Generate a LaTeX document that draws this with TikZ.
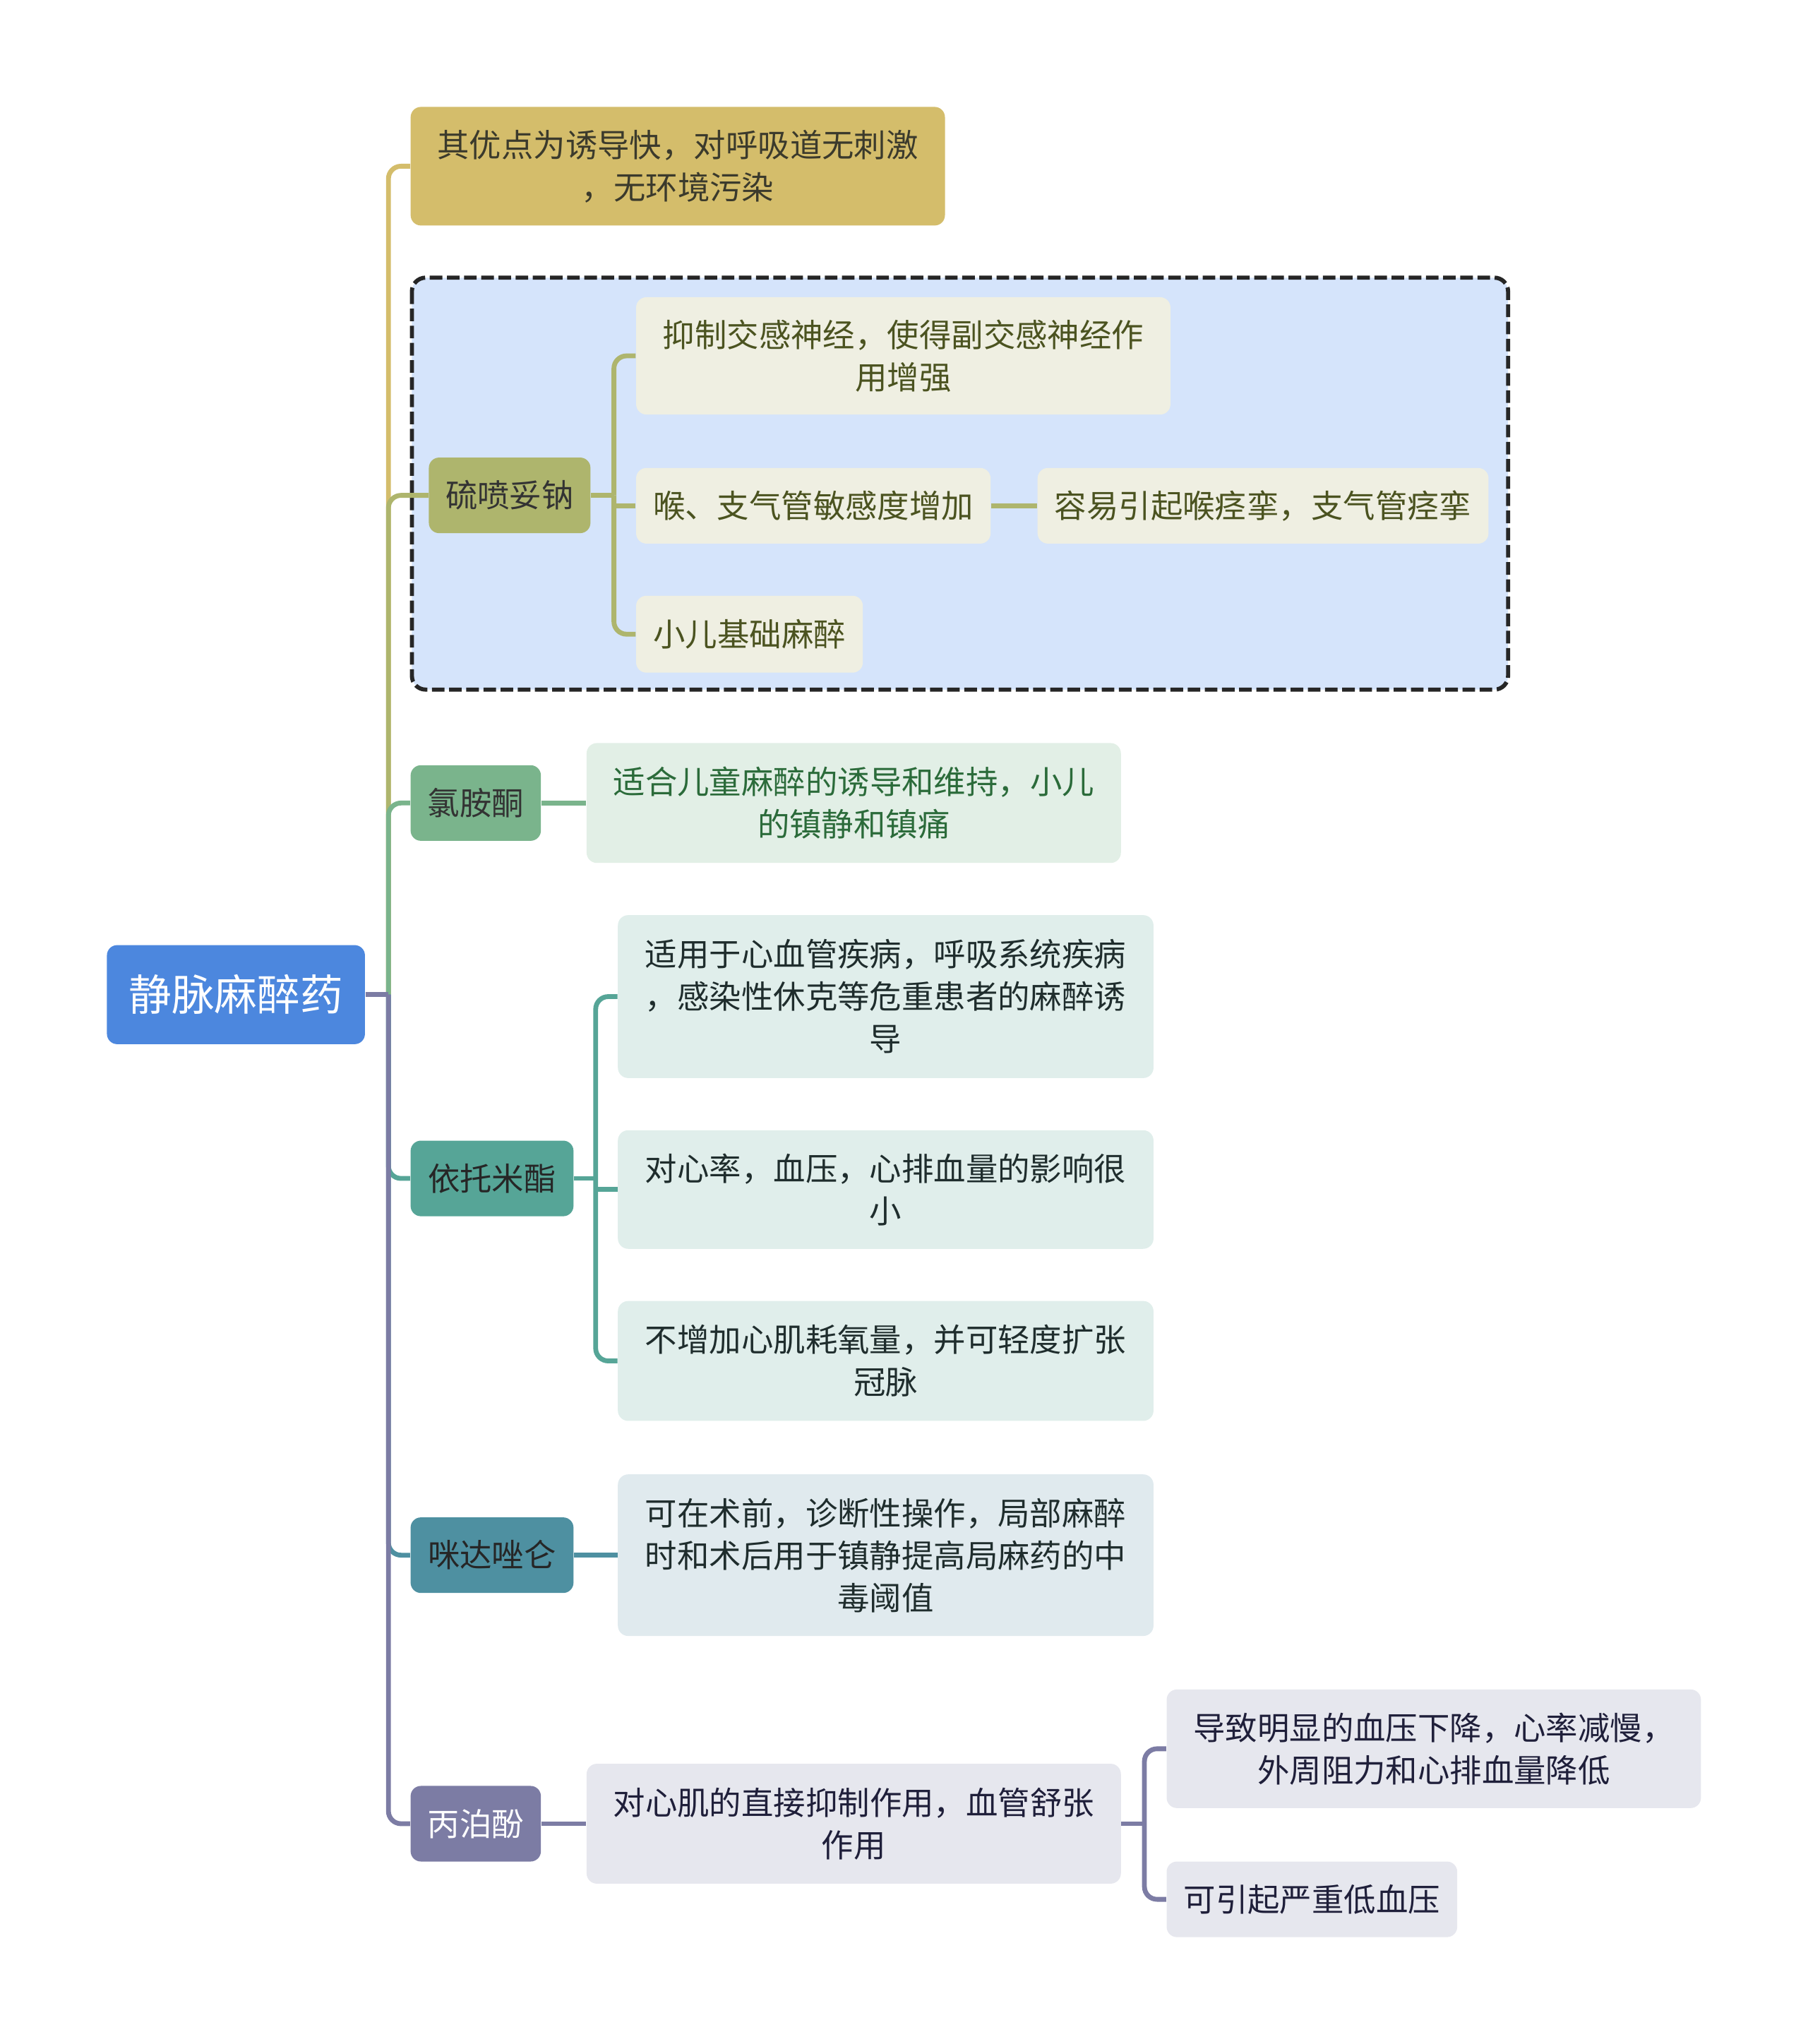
\documentclass[tikz,border=0pt]{standalone}
\usepackage{fontspec}
\setmainfont{Noto Sans CJK SC}
\definecolor{rootblue}{HTML}{4C87DE}
\definecolor{cgold}{HTML}{D4BD6B}
\definecolor{colive}{HTML}{AEB56D}
\definecolor{cgreen}{HTML}{7AB48C}
\definecolor{cteal}{HTML}{56A597}
\definecolor{cblue}{HTML}{4E90A1}
\definecolor{cpurple}{HTML}{7C7CA4}
\definecolor{groupbg}{HTML}{D5E4FB}
\definecolor{olivebg}{HTML}{EFEFE2}
\definecolor{greenbg}{HTML}{E2EFE6}
\definecolor{tealbg}{HTML}{E0EEEB}
\definecolor{bluebg}{HTML}{E0EAEE}
\definecolor{purplebg}{HTML}{E6E7EE}
\definecolor{txtgold}{HTML}{3B3A2C}
\definecolor{txtolive}{HTML}{4B5320}
\definecolor{txtgreen}{HTML}{2B6B3A}
\definecolor{txtdark}{HTML}{1F2D2D}
\definecolor{txtnavy}{HTML}{1F1F3A}
\tikzset{
  topic/.style={rounded corners=4.5pt, align=center, inner sep=0pt,
    font=\fontsize{14pt}{18.5pt}\selectfont},
  link/.style={line width=2.1pt, rounded corners=5.5pt},
}
\begin{document}
\begin{tikzpicture}[x=0.02cm, y=-0.02cm]
  \useasboundingbox (0,0) rectangle (1387,1568);
  % dashed group round the first drug
  \draw[dashed, dash pattern=on 5.5pt off 2pt, line width=1.8pt, draw=black!85,
    fill=groupbg, rounded corners=6pt] (316,213) rectangle (1157,529);

  % root and drugs
  \node[topic, fill=rootblue, text=white, minimum width=3.96cm, minimum height=1.52cm,
    font=\fontsize{18.7pt}{22pt}\selectfont] (root) at (181,763) {静脉麻醉药};
  \node[topic, fill=cgold, text=txtgold, minimum width=8.2cm, minimum height=1.82cm]
    (n1) at (520,127.5) {其优点为诱导快，对呼吸道无刺激\\，无环境污染};
  \node[topic, fill=colive, text=black!80, minimum width=2.48cm, minimum height=1.16cm]
    (n2) at (391,380) {硫喷妥钠};
  \node[topic, fill=cgreen, text=black!80, minimum width=2.0cm, minimum height=1.16cm]
    (n3) at (365,616) {氯胺酮};
  \node[topic, fill=cteal, text=black!85, minimum width=2.5cm, minimum height=1.16cm]
    (n4) at (377.5,904) {依托米酯};
  \node[topic, fill=cblue, text=black!85, minimum width=2.5cm, minimum height=1.16cm]
    (n5) at (377.5,1193) {咪达唑仑};
  \node[topic, fill=cpurple, text=white, minimum width=2.0cm, minimum height=1.16cm]
    (n6) at (365,1399) {丙泊酚};

  % details
  \node[topic, fill=olivebg, text=txtolive, minimum width=8.2cm, minimum height=1.8cm]
    (n2a) at (693,273) {抑制交感神经，使得副交感神经作\\用增强};
  \node[topic, fill=olivebg, text=txtolive, minimum width=5.44cm, minimum height=1.16cm]
    (n2b) at (624,388) {喉、支气管敏感度增加};
  \node[topic, fill=olivebg, text=txtolive, minimum width=6.92cm, minimum height=1.16cm]
    (n2b1) at (969,388) {容易引起喉痉挛，支气管痉挛};
  \node[topic, fill=olivebg, text=txtolive, minimum width=3.48cm, minimum height=1.18cm]
    (n2c) at (575,486.5) {小儿基础麻醉};
  \node[topic, fill=greenbg, text=txtgreen, minimum width=8.2cm, minimum height=1.84cm]
    (n3a) at (655,616) {适合儿童麻醉的诱导和维持，小儿\\的镇静和镇痛};
  \node[topic, fill=tealbg, text=txtdark, minimum width=8.22cm, minimum height=2.5cm]
    (n4a) at (679.5,764.5) {适用于心血管疾病，呼吸系统疾病\\，感染性休克等危重患者的麻醉诱\\导};
  \node[topic, fill=tealbg, text=txtdark, minimum width=8.22cm, minimum height=1.82cm]
    (n4b) at (679.5,912.5) {对心率，血压，心排血量的影响很\\小};
  \node[topic, fill=tealbg, text=txtdark, minimum width=8.22cm, minimum height=1.84cm]
    (n4c) at (679.5,1044) {不增加心肌耗氧量，并可轻度扩张\\冠脉};
  \node[topic, fill=bluebg, text=txtdark, minimum width=8.22cm, minimum height=2.48cm]
    (n5a) at (679.5,1193) {可在术前，诊断性操作，局部麻醉\\时和术后用于镇静提高局麻药的中\\毒阈值};
  \node[topic, fill=purplebg, text=txtnavy, minimum width=8.2cm, minimum height=1.84cm]
    (n6a) at (655,1399) {对心肌的直接抑制作用，血管舒张\\作用};
  \node[topic, fill=purplebg, text=txtnavy, minimum width=8.2cm, minimum height=1.82cm]
    (n6a1) at (1100,1341.5) {导致明显的血压下降，心率减慢，\\外周阻力和心排血量降低};
  \node[topic, fill=purplebg, text=txtnavy, minimum width=4.46cm, minimum height=1.16cm]
    (n6a2) at (1006.5,1457) {可引起严重低血压};

  % trunk
  \coordinate (hub) at (298,763);
  \foreach \n / \col in {n1/cgold, n2/colive, n3/cgreen, n4/cteal, n5/cblue, n6/cpurple} {
    \draw[link, \col] (hub) |- (\n.west);
  }
  \draw[link, cpurple] (root.east) -- (hub);

  % second level
  \coordinate (h2) at (471,380);
  \draw[link, colive] (n2.east) -- (h2);
  \foreach \n in {n2a, n2c} {
    \draw[link, colive] (h2) |- (\n.west);
  }
  \draw[link, colive] (h2 |- n2b.west) -- (n2b.west);
  \draw[link, colive] (n2b.east) -- (n2b1.west);
  \draw[link, cgreen] (n3.east) -- (n3a.west);
  \coordinate (h4) at (457,904);
  \draw[link, cteal] (n4.east) -- (h4);
  \foreach \n in {n4a, n4c} {
    \draw[link, cteal] (h4) |- (\n.west);
  }
  \draw[link, cteal] (h4 |- n4b.west) -- (n4b.west);
  \draw[link, cblue] (n5.east) -- (n5a.west);
  \draw[link, cpurple] (n6.east) -- (n6a.west);
  \coordinate (h6) at (878,1399);
  \draw[link, cpurple] (n6a.east) -- (h6);
  \foreach \n in {n6a1, n6a2} {
    \draw[link, cpurple] (h6) |- (\n.west);
  }
\end{tikzpicture}
\end{document}
